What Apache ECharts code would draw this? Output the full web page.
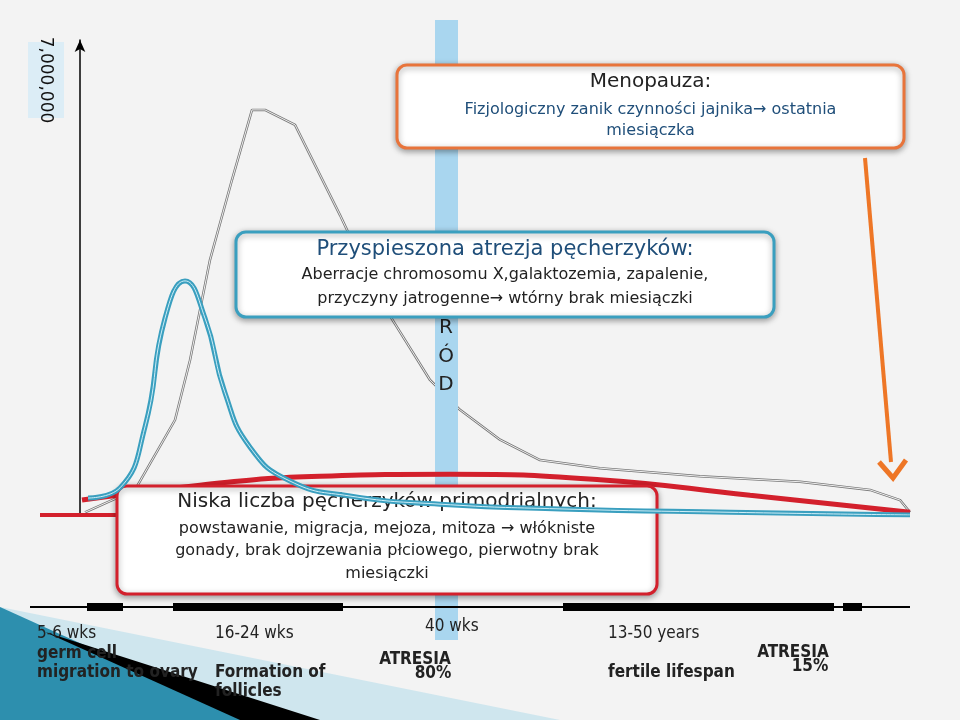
<!DOCTYPE html>
<html>
<head>
  <meta charset="utf-8">
  <title>Pęcherzyki</title>
  <script src="https://cdn.jsdelivr.net/npm/echarts@6/dist/echarts.min.js"></script>
  <style>body{margin:0;background:#f3f3f3;}</style>
</head>
<body>
<div id="main" style="width:960px;height:720px;"></div>
<script type="text/javascript">
  // wartości (oś x: umowne jednostki 0-830, oś y: liczba pęcherzyków)
  var normalX = [5, 55, 95, 110, 130, 152, 172, 185, 215, 260, 300, 350, 380, 420, 460, 520, 620, 720, 790, 820, 830];
  var normalY = [0.04, 0.37, 1.40, 2.28, 3.76, 4.94, 5.97, 5.97, 5.75, 4.42, 3.17, 1.99, 1.55, 1.11, 0.81, 0.69, 0.57, 0.49, 0.37, 0.22, 0.04];
  var fastX = [8, 40, 65, 85, 105, 125, 145, 170, 210, 270, 360, 480, 650, 830];
  var fastY = [0.25, 0.40, 1.30, 2.90, 3.45, 2.90, 1.80, 1.00, 0.50, 0.28, 0.16, 0.09, 0.04, 0.0];
  var lowX = [2, 120, 240, 370, 520, 670, 830];
  var lowY = [0.22, 0.44, 0.57, 0.60, 0.52, 0.29, 0.04];
  var yMaxLabel = '7,000,000';

  function pairs(xs, ys) {
    return xs.map(function (x, i) { return [x, ys[i] * 1e6]; });
  }

  var font = '"DejaVu Sans", Verdana, sans-serif';
  var narrow = '"DejaVu Sans Condensed", "Open Sans", sans-serif';

  function box(x, y, w, h, color, lines, z) {
    var children = [{
      type: 'rect', z: z, shape: { x: x, y: y, width: w, height: h, r: 10 },
      style: { fill: '#fff', stroke: color, lineWidth: 3, shadowBlur: 6, shadowColor: 'rgba(0,0,0,0.35)', shadowOffsetY: 2 }
    }];
    lines.forEach(function (l) {
      children.push({ type: 'text', z: z + 1, x: x + w / 2, y: l.y,
        style: { text: l.t, font: l.s + 'px ' + font, fill: l.c || '#222', align: 'center', verticalAlign: 'middle' } });
    });
    return children;
  }

  function blackBar(x1, x2) {
    return { type: 'rect', z: 3, shape: { x: x1, y: 603, width: x2 - x1, height: 8 }, style: { fill: '#000' } };
  }
  function label(x, y, t, opt) {
    opt = opt || {};
    return { type: 'text', z: 3, x: x, y: y,
      style: { text: t, font: (opt.b ? 'bold ' : '') + '17px ' + narrow, fill: opt.c || '#222', align: opt.a || 'left', verticalAlign: 'middle' } };
  }

  var graphics = [
    // dekoracja w lewym dolnym rogu
    { type: 'polygon', z: 1, shape: { points: [[0, 607], [560, 720], [0, 720]] }, style: { fill: '#cfe6ee' } },
    { type: 'polygon', z: 1, shape: { points: [[0, 607], [250, 720], [0, 720]] }, style: { fill: '#2d8fae' } },
    { type: 'polygon', z: 1, shape: { points: [[45, 632], [320, 720], [240, 720]] }, style: { fill: '#000' } },
    // pionowy pas PORÓD
    { type: 'rect', z: 3, shape: { x: 435, y: 20, width: 23, height: 620 }, style: { fill: '#a9d6ef' } },
    { type: 'text', z: 3, x: 446, y: 328, style: { text: 'R', font: '20px ' + font, fill: '#222', align: 'center', verticalAlign: 'middle' } },
    { type: 'text', z: 3, x: 446, y: 357, style: { text: 'Ó', font: '20px ' + font, fill: '#222', align: 'center', verticalAlign: 'middle' } },
    { type: 'text', z: 3, x: 446, y: 385, style: { text: 'D', font: '20px ' + font, fill: '#222', align: 'center', verticalAlign: 'middle' } },
    // etykieta osi y
    { type: 'rect', z: 3, shape: { x: 28, y: 42, width: 36, height: 76 }, style: { fill: '#dcedf6' } },
    { type: 'text', z: 3, x: 45, y: 80, rotation: -Math.PI / 2,
      style: { text: yMaxLabel, font: '17px ' + font, fill: '#111', align: 'center', verticalAlign: 'middle' } },
    { type: 'line', z: 3, shape: { x1: 40, y1: 515, x2: 117, y2: 515 }, style: { stroke: '#d3202c', lineWidth: 4 } },
    // strzałka pomarańczowa
    { type: 'line', z: 11, shape: { x1: 865, y1: 158, x2: 891, y2: 462 }, style: { stroke: '#ee7626', lineWidth: 4 } },
    { type: 'polyline', z: 11, shape: { points: [[879, 462], [893, 478], [906, 460]] }, style: { stroke: '#ee7626', lineWidth: 5, fill: null } },
    // oś czasu
    { type: 'line', z: 3, shape: { x1: 30, y1: 607, x2: 910, y2: 607 }, style: { stroke: '#000', lineWidth: 2 } },
    blackBar(87, 123), blackBar(173, 343), blackBar(563, 834), blackBar(843, 862),
    label(37, 634, '5-6 wks'), label(37, 654, 'germ cell', { b: true }), label(37, 673, 'migration to ovary', { b: true }),
    label(215, 634, '16-24 wks'), label(215, 673, 'Formation of', { b: true }), label(215, 692, 'follicles', { b: true }),
    label(425, 627, '40 wks'),
    label(415, 660, 'ATRESIA', { b: true, a: 'center' }), label(433, 674, '80%', { b: true, a: 'center' }),
    label(608, 634, '13-50 years'), label(608, 673, 'fertile lifespan', { b: true }),
    label(793, 653, 'ATRESIA', { b: true, a: 'center' }), label(810, 667, '15%', { b: true, a: 'center' })
  ];
  graphics = graphics.concat(
    box(397, 65, 507, 83, '#e8743b', [
      { t: 'Menopauza:', s: 20, y: 82 },
      { t: 'Fizjologiczny zanik czynności jajnika\u2192 ostatnia', s: 16, y: 110, c: '#1f4e79' },
      { t: 'miesiączka', s: 16, y: 131, c: '#1f4e79' }
    ], 10),
    box(236, 232, 538, 85, '#3a9fbf', [
      { t: 'Przyspieszona atrezja pęcherzyków:', s: 21, y: 250, c: '#1f4e79' },
      { t: 'Aberracje chromosomu X,galaktozemia, zapalenie,', s: 16, y: 275 },
      { t: 'przyczyny jatrogenne\u2192 wtórny brak miesiączki', s: 16, y: 299 }
    ], 10),
    box(117, 486, 540, 108, '#d3202c', [
      { t: 'Niska liczba pęcherzyków primodrialnych:', s: 20, y: 502 },
      { t: 'powstawanie, migracja, mejoza, mitoza \u2192 włókniste', s: 16, y: 529 },
      { t: 'gonady, brak dojrzewania płciowego, pierwotny brak', s: 16, y: 551 },
      { t: 'miesiączki', s: 16, y: 574 }
    ], 10)
  );

  var myChart = echarts.init(document.getElementById('main'));
  var option = {
    backgroundColor: '#f3f3f3',
    animation: false,
    grid: { left: 80, right: 50, top: 40, bottom: 205 },
    xAxis: { type: 'value', min: 0, max: 830, show: false },
    yAxis: {
      type: 'value', min: 0, max: 7e6,
      axisLine: { show: true, lineStyle: { color: '#000', width: 1.5 }, symbol: ['none', 'arrow'], symbolSize: [8, 12] },
      axisTick: { show: false }, axisLabel: { show: false }, splitLine: { show: false }
    },
    series: [
      { type: 'line', z: 2, data: pairs(normalX, normalY), symbol: 'none',
        lineStyle: { color: '#777', width: 2.5 } },
      { type: 'line', z: 2, data: pairs(normalX, normalY), symbol: 'none',
        lineStyle: { color: '#eee', width: 1 } },
      { type: 'line', z: 4, data: pairs(lowX, lowY), symbol: 'none', smooth: true,
        lineStyle: { color: '#d3202c', width: 5 } },
      { type: 'line', z: 20, data: pairs(fastX, fastY), symbol: 'none', smooth: 0.5,
        lineStyle: { color: '#3a9fbf', width: 5 } },
      { type: 'line', z: 20, data: pairs(fastX, fastY), symbol: 'none', smooth: 0.5,
        lineStyle: { color: '#cfeef7', width: 1 } }
    ],
    graphic: graphics
  };
  myChart.setOption(option);
</script>
</body>
</html>
